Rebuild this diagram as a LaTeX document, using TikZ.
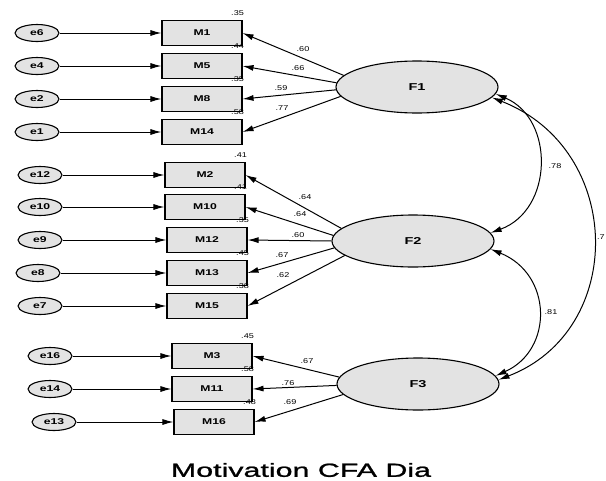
\documentclass[tikz,border=0pt]{standalone}
\usepackage{fontspec}
\setmainfont{Liberation Sans}
\newfontfamily\labfont[FakeStretch=1.45]{Liberation Sans}
\newfontfamily\numfont[FakeStretch=1.3]{Liberation Sans}
\newfontfamily\capfont[FakeStretch=1.6,FakeBold=1.2]{Liberation Sans}
\usetikzlibrary{calc,positioning,shapes.geometric,arrows.meta}

\begin{document}
\begin{tikzpicture}[
    x=1pt, y=-1pt,
    every node/.style={font=\labfont\fontsize{8.4}{9}\selectfont\bfseries},
    ind/.style={rectangle, draw=black, line width=1.1pt, fill=gray!22,
        minimum width=80pt, minimum height=25pt, inner sep=0pt},
    err/.style={ellipse, draw=black, line width=1.1pt, fill=gray!22,
        minimum width=44pt, minimum height=17pt, inner sep=0pt},
    lat/.style={ellipse, draw=black, line width=1.1pt, fill=gray!22,
        minimum width=162pt, minimum height=52pt, inner sep=0pt,
        font=\labfont\fontsize{10}{12}\selectfont\bfseries},
    num/.style={inner sep=0pt, font=\numfont\fontsize{7}{8}\selectfont},
    ar/.style={draw=black, line width=1pt, -{Latex[length=11pt,width=6pt]}},
    cv/.style={draw=black, line width=1pt,
        {Latex[length=11pt,width=6pt]}-{Latex[length=11pt,width=6pt]}},
]
    \useasboundingbox (0,0) rectangle (606,480);

    % Factors
    \node[lat] (F1) at (417,87)  {F1};
    \node[lat] (F2) at (413,241) {F2};
    \node[lat] (F3) at (418,384) {F3};

    % Indicators of F1
    \node[ind] (M1)  at (202,33)  {M1};
    \node[ind] (M5)  at (202,66)  {M5};
    \node[ind] (M8)  at (202,99)  {M8};
    \node[ind] (M14) at (202,132) {M14};

    % Indicators of F2
    \node[ind] (M2)  at (205,175) {M2};
    \node[ind] (M10) at (205,207) {M10};
    \node[ind] (M12) at (207,240) {M12};
    \node[ind] (M13) at (207,273) {M13};
    \node[ind] (M15) at (207,306) {M15};

    % Indicators of F3
    \node[ind] (M3)  at (212,356) {M3};
    \node[ind] (M11) at (212,389) {M11};
    \node[ind] (M16) at (214,422) {M16};

    % Errors
    \node[err] (e6)  at (37,33)  {e6};
    \node[err] (e4)  at (37,66)  {e4};
    \node[err] (e2)  at (37,99)  {e2};
    \node[err] (e1)  at (37,132) {e1};
    \node[err] (e12) at (40,175) {e12};
    \node[err] (e10) at (40,207) {e10};
    \node[err] (e9)  at (40,240) {e9};
    \node[err] (e8)  at (38,273) {e8};
    \node[err] (e7)  at (40,306) {e7};
    \node[err] (e16) at (50,356) {e16};
    \node[err] (e14) at (50,389) {e14};
    \node[err] (e13) at (54,422) {e13};

    % Error arrows
    \foreach \e/\m in {e6/M1, e4/M5, e2/M8, e1/M14, e12/M2, e10/M10,
        e9/M12, e8/M13, e7/M15, e16/M3, e14/M11, e13/M16}
        \draw[ar] (\e.east) -- (\m.west);

    % Loadings
    \foreach \a/\m in {171/M1, 177/M5, 182/M8, 187/M14}
        \draw[ar] (F1.\a) -- (\m.east);
    \foreach \a/\m in {170/M2, 176/M10, 180/M12, 185/M13, 192/M15}
        \draw[ar] (F2.\a) -- (\m.east);
    \foreach \a/\m in {175/M3, 181/M11, 188/M16}
        \draw[ar] (F3.\a) -- (\m.east);

    % Squared multiple correlations
    \foreach \m/\r in {M1/.35, M5/.44, M8/.35, M14/.58, M2/.41, M10/.41,
        M12/.35, M13/.45, M15/.38, M3/.45, M11/.58, M16/.48}
        \node[num, anchor=base] (r\m) at ([shift={(-5,-4)}]\m.north east) {\r};

    % Loading values
    \node[num] (l1)  at (303,49)  {.60};
    \node[num] (l5)  at (298,68)  {.66};
    \node[num] (l8)  at (281,88)  {.59};
    \node[num] (l14) at (282,108) {.77};
    \node[num] (l2)  at (305,197) {.64};
    \node[num] (l10) at (300,214) {.64};
    \node[num] (l12) at (298,235) {.60};
    \node[num] (l13) at (282,255) {.67};
    \node[num] (l15) at (283,275) {.62};
    \node[num] (l3)  at (307,361) {.67};
    \node[num] (l11) at (288,383) {.76};
    \node[num] (l16) at (290,402) {.69};

    % Covariances
    \draw[cv] (F1.-5) .. controls +(59,25) and +(63,-23) .. (F2.6);
    \draw[cv] (F2.-6) .. controls +(62,25) and +(58,-26) .. (F3.6);
    \draw[cv] (F1.-8) .. controls +(133,52) and +(128,-49) .. (F3.3);
    \node[num] (c12) at (555,166) {.78};
    \node[num] (c23) at (551,312) {.81};
    \node[num, anchor=west] (c13) at (597,237) {.7};

    % Caption
    \node[font=\capfont\fontsize{19}{22}\selectfont\mdseries] (title) at (301,470)
        {Motivation CFA Dia};
\end{tikzpicture}
\end{document}
